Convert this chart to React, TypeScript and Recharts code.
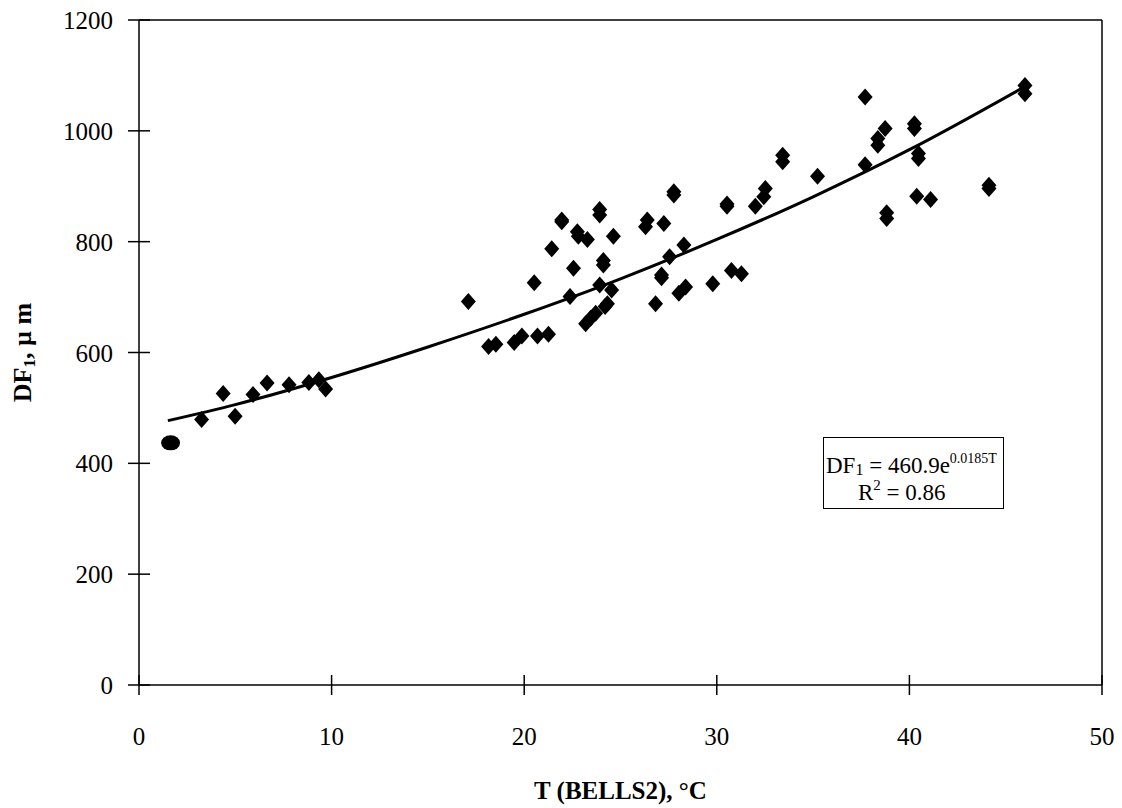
import React from "react";
import { ScatterChart, Scatter, XAxis, YAxis, ReferenceLine } from "recharts";

const tempValues = [
  3.25, 4.37, 4.99, 5.92, 6.65, 7.79, 8.82, 9.34, 9.69,
  17.1, 18.15, 18.53, 19.48, 19.88, 20.52, 20.69, 21.26, 21.43, 21.95, 21.95,
  22.38, 22.56, 22.76, 22.81, 23.28, 23.19, 23.45, 23.71, 23.92, 23.92, 23.92,
  24.11, 24.11, 24.2, 24.32, 24.54, 24.63,
  26.39, 26.3, 26.82, 27.13, 27.13, 27.25, 27.77, 27.77, 27.55, 28.03, 28.38, 28.29, 29.79,
  30.53, 30.53, 30.76, 31.28, 32.0, 32.44, 32.52, 33.42, 33.42, 35.23,
  37.7, 37.7, 38.36, 38.36, 38.74, 38.82, 38.82, 40.26, 40.26, 40.47, 40.47,
  40.38, 41.1, 44.13, 44.13, 46.0, 46.0,
];
const dfValues = [
  479, 526, 485, 524, 545, 542, 546, 551, 534,
  692, 611, 615, 618, 630, 726, 630, 633, 787, 839, 836,
  701, 752, 818, 810, 804, 652, 662, 671, 722, 858, 848,
  766, 758, 683, 688, 713, 810,
  839, 827, 688, 740, 735, 833, 884, 890, 773, 707, 718, 794, 724,
  868, 864, 748, 742, 864, 881, 896, 956, 944, 918,
  1061, 939, 986, 974, 1004, 852, 842, 1013, 1004, 959, 950,
  882, 876, 902, 896, 1082, 1067,
];
const circleTemp = [1.64];
const circleDf = [437];

// trend line
const trendTemp = [1.5, 5, 10, 15, 20, 25, 30, 35, 40, 46];
const trendDf = [477, 506, 555, 610, 669, 733, 804, 881, 966, 1080];

const xTicks = [0, 10, 20, 30, 40, 50];
const yTicks = [0, 200, 400, 600, 800, 1000, 1200];

const points = tempValues.map((x, i) => ({ x, y: dfValues[i] }));
const circlePts = circleTemp.map((x, i) => ({ x, y: circleDf[i] }));
const trendPts = trendTemp.map((x, i) => ({ x, y: trendDf[i] }));

const FONT = "'Liberation Serif', 'Times New Roman', serif";

const Diamond = (p: any) => {
  const { cx, cy } = p;
  if (cx == null || cy == null) return <g />;
  return (
    <polygon
      points={`${cx},${cy - 8.5} ${cx + 7.5},${cy} ${cx},${cy + 8.5} ${cx - 7.5},${cy}`}
      fill="#000"
    />
  );
};

const Ellipse = (p: any) => {
  const { cx, cy } = p;
  if (cx == null || cy == null) return <g />;
  return <ellipse cx={cx} cy={cy} rx={9.5} ry={7.5} fill="#000" />;
};

const Nothing = () => <g />;

const XTick = (props: any) => {
  const { x, y, payload } = props;
  return (
    <g>
      <line x1={x} x2={x} y1={y - 10} y2={y + 10} stroke="#000" strokeWidth={1.5} />
      <text x={x} y={y + 60} textAnchor="middle" fontFamily={FONT} fontSize={25} fill="#000">
        {payload.value}
      </text>
    </g>
  );
};

const YTick = (props: any) => {
  const { x, y, payload } = props;
  return (
    <g>
      <line x1={x - 11} x2={x + 11} y1={y} y2={y} stroke="#000" strokeWidth={1.5} />
      <text x={x - 26} y={y + 9} textAnchor="end" fontFamily={FONT} fontSize={25} fill="#000">
        {payload.value}
      </text>
    </g>
  );
};

const XTitle = (props: any) => {
  const vb = props.viewBox || {};
  return (
    <text
      x={vb.x + vb.width / 2}
      y={vb.y + 114}
      textAnchor="middle"
      fontFamily={FONT}
      fontSize={25}
      fontWeight="bold"
      fill="#000"
    >
      T (BELLS2), °C
    </text>
  );
};

const YTitle = (props: any) => {
  const vb = props.viewBox || {};
  const cy = vb.y + vb.height / 2;
  const x = 31;
  return (
    <text
      x={x}
      y={cy}
      transform={`rotate(-90, ${x}, ${cy})`}
      textAnchor="middle"
      fontFamily={FONT}
      fontSize={26}
      fontWeight="bold"
      fill="#000"
    >
      DF<tspan fontSize={17} dy={4}>1</tspan>
      <tspan dy={-4}>, µ  m</tspan>
    </text>
  );
};

export default function App() {
  return (
    <div style={{ position: "absolute", left: 0, top: 0, width: 1122, height: 808, background: "#fff" }}>
      <ScatterChart
        width={1122}
        height={808}
        margin={{ top: 20, right: 20, left: 79, bottom: 63 }}
      >
        <XAxis
          dataKey="x"
          type="number"
          domain={[0, 50]}
          ticks={xTicks}
          tickSize={0}
          tickMargin={0}
          tickLine={false}
          tick={<XTick />}
          height={60}
          stroke="#000"
          strokeWidth={1.5}
          allowDataOverflow
          label={<XTitle />}
        />
        <YAxis
          dataKey="y"
          type="number"
          domain={[0, 1200]}
          ticks={yTicks}
          tickSize={0}
          tickMargin={0}
          tickLine={false}
          tick={<YTick />}
          width={60}
          stroke="#000"
          strokeWidth={1.5}
          allowDataOverflow
          label={<YTitle />}
        />
        <ReferenceLine y={1200} stroke="#000" strokeWidth={1.5} ifOverflow="visible" />
        <ReferenceLine x={50} stroke="#000" strokeWidth={1.5} ifOverflow="visible" />
        <Scatter data={points} shape={<Diamond />} isAnimationActive={false} />
        <Scatter data={circlePts} shape={<Ellipse />} isAnimationActive={false} />
        <Scatter
          data={trendPts}
          shape={<Nothing />}
          line={{ stroke: "#000", strokeWidth: 3 }}
          lineJointType="monotoneX"
          isAnimationActive={false}
        />
      </ScatterChart>
      <div
        style={{
          position: "absolute",
          left: 823,
          top: 437,
          width: 181,
          height: 72,
          boxSizing: "border-box",
          border: "1.5px solid #000",
          fontFamily: FONT,
          fontSize: 23,
          color: "#000",
          background: "#fff",
        }}
      >
        <div style={{ position: "absolute", left: 2, top: 15, lineHeight: "26px", whiteSpace: "nowrap" }}>
          DF<span style={{ fontSize: 16, position: "relative", top: 2 }}>1</span> = 460.9e
          <span style={{ fontSize: 14, position: "relative", top: -10 }}>0.0185T</span>
        </div>
        <div style={{ position: "absolute", left: 34, top: 42, lineHeight: "26px", whiteSpace: "nowrap" }}>
          R<span style={{ fontSize: 15, position: "relative", top: -10 }}>2</span> = 0.86
        </div>
      </div>
    </div>
  );
}
